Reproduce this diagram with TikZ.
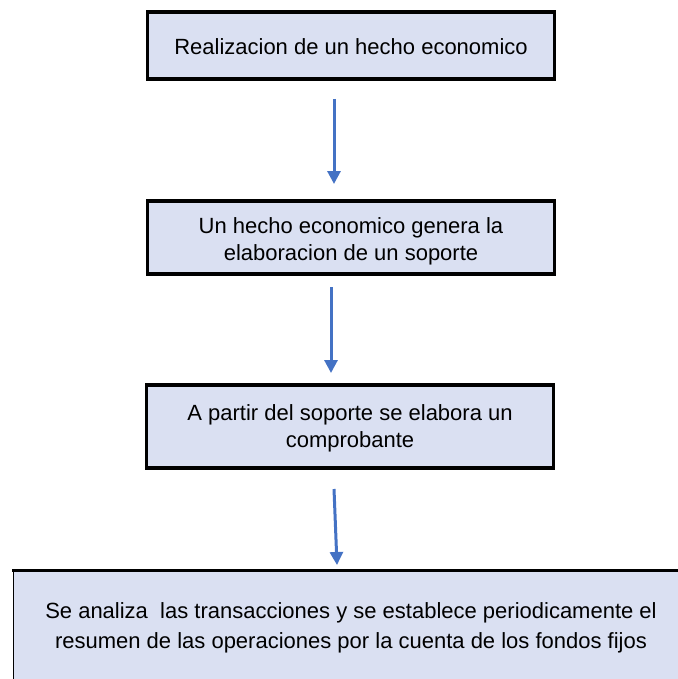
\documentclass[tikz,border=0pt]{standalone}
\usepackage{fontspec}
\setmainfont{Liberation Sans}
\usetikzlibrary{arrows.meta}
\definecolor{boxfill}{HTML}{DAE0F2}
\definecolor{arrowblue}{HTML}{4472C4}
\begin{document}
\begin{tikzpicture}[x=1pt,y=-1pt,
  stepbox/.style={draw=black,line width=3.5pt,fill=boxfill,minimum width=407pt,inner sep=0pt},
  steptext/.style={align=center,inner sep=0pt,font=\fontsize{22}{27}\selectfont},
  flowarrow/.style={draw=arrowblue,line width=3pt,-{Triangle[width=13pt,length=13pt]}}]
\useasboundingbox (0,0) rectangle (677,679);
\node[stepbox,minimum height=67pt] (b1) at (351,45.5) {};
\node[steptext] (t1) at (351,47) {Realizacion de un hecho economico};
\node[stepbox,minimum height=73pt] (b2) at (351,237.5) {};
\node[steptext] (t2) at (351,241) {Un hecho economico genera la\\elaboracion de un soporte};
\node[stepbox,minimum height=83pt] (b3) at (350,426.5) {};
\node[steptext] (t3) at (350,428.5) {A partir del soporte se elabora un\\comprobante};
% bottom box, extending beyond the picture edges
\fill[boxfill] (13,570) rectangle (690,690);
\draw[line width=3pt] (12,570) -- (690,570);
\draw[line width=1pt] (13,570) -- (13,690);
\node[steptext,font=\fontsize{22}{30}\selectfont] (b4) at (351,628) {Se analiza\ \ las transacciones y se establece periodicamente el\\resumen de las operaciones por la cuenta de los fondos fijos};
\coordinate (a1s) at (334,99);
\coordinate (a1e) at (334,184);
\coordinate (a2s) at (331,287);
\coordinate (a2e) at (331,373);
\coordinate (a3s) at (334,489);
\coordinate (a3e) at (337,565);
\draw[flowarrow] (a1s) -- (a1e);
\draw[flowarrow] (a2s) -- (a2e);
\draw[flowarrow] (a3s) -- (a3e);
\end{tikzpicture}
\end{document}
